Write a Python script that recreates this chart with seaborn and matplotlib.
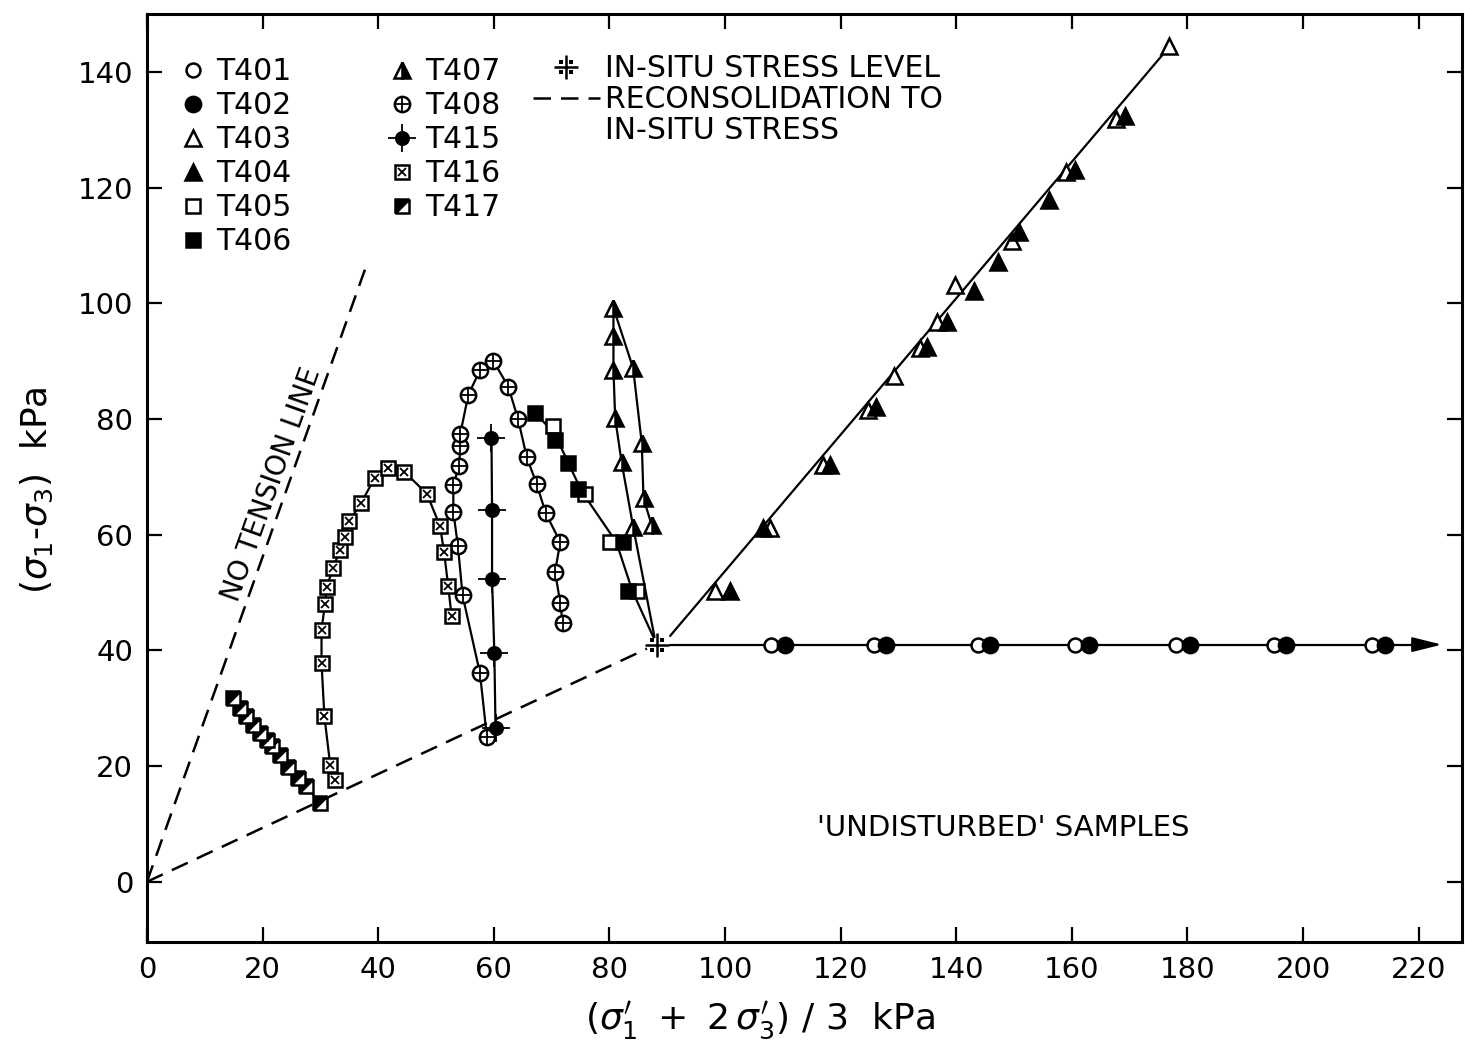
import numpy as np
import pandas as pd
import matplotlib
matplotlib.use("Agg")
import matplotlib.pyplot as plt
import seaborn as sns
from matplotlib.lines import Line2D
from matplotlib.markers import MarkerStyle
from matplotlib.transforms import Affine2D
from matplotlib.path import Path
from matplotlib.legend_handler import HandlerTuple

# ---------------- data (p' = (s1'+2s3')/3 , q = s1-s3), kPa ----------------
in_situ_p = [88.2]
in_situ_q = [41.0]

t401_p = [108.0, 125.8, 143.8, 160.6, 178.0, 195.0, 211.9]
t401_q = [41.0, 41.0, 41.0, 41.0, 41.0, 41.0, 41.0]
t402_p = [110.4, 127.9, 145.8, 163.0, 180.4, 197.1, 214.2]
t402_q = [41.0, 41.0, 41.0, 41.0, 41.0, 41.0, 41.0]

t403_p = [98.3, 107.8, 117.0, 124.8, 129.2, 133.7, 136.7, 139.8, 149.6, 158.9, 167.6, 176.8]
t403_q = [50.3, 61.2, 72.0, 81.6, 87.4, 92.2, 96.7, 103.2, 110.8, 122.7, 131.9, 144.5]
t404_p = [100.9, 106.5, 118.2, 126.2, 134.9, 138.4, 143.1, 147.3, 150.8, 156.0, 160.6, 169.2]
t404_q = [50.3, 61.2, 72.0, 82.0, 92.5, 96.7, 102.1, 107.2, 112.4, 117.8, 123.1, 132.4]

t405_p = [70.3, 75.8, 80.1, 84.7]
t405_q = [78.8, 67.1, 58.7, 50.2]
t406_p = [67.1, 70.6, 72.9, 74.6, 82.4, 83.3]
t406_q = [81.1, 76.3, 72.4, 67.9, 58.7, 50.2]

t407_p = [84.1, 82.1, 81.0, 80.7, 80.7, 80.7, 84.1, 85.6, 85.9, 87.3]
t407_q = [61.4, 72.6, 80.1, 88.5, 94.3, 99.2, 88.8, 75.8, 66.3, 61.7]

t408_p = [58.8, 57.6, 54.6, 53.8, 53.0, 53.0, 54.0, 54.2, 54.2, 55.6, 57.6, 59.9,
          62.5, 64.2, 65.7, 67.4, 69.0, 71.5, 70.6, 71.5, 71.9]
t408_q = [25.1, 36.1, 49.5, 58.0, 64.0, 68.6, 71.9, 75.4, 77.4, 84.2, 88.4, 90.1,
          85.6, 80.0, 73.4, 68.8, 63.7, 58.7, 53.6, 48.2, 44.8]

t415_p = [60.3, 60.1, 59.7, 59.7, 59.6]
t415_q = [26.5, 39.5, 52.3, 64.3, 76.7]

t416_p = [32.5, 31.7, 30.7, 30.2, 30.2, 30.8, 31.1, 32.2, 33.4, 34.3, 35.0, 37.0,
          39.4, 41.7, 44.5, 48.4, 50.7, 51.4, 52.1, 52.7]
t416_q = [17.6, 20.2, 28.6, 37.8, 43.6, 48.0, 51.0, 54.2, 57.4, 59.6, 62.3, 65.4,
          69.8, 71.5, 70.9, 67.1, 61.5, 57.0, 51.2, 46.0]

t417_p = [29.9, 27.6, 26.2, 24.4, 23.0, 21.6, 20.7, 19.6, 18.4, 17.2, 16.1, 14.9]
t417_q = [13.6, 16.5, 17.9, 19.9, 22.0, 23.4, 24.5, 25.7, 27.1, 28.6, 30.0, 31.7]

# drawn curves (hand-faired lines of the original)
curve_403_404_p = [90.5, 177.0]
curve_403_404_q = [42.5, 144.5]
curve_401_402_p = [90.5, 224.0]
curve_401_402_q = [41.0, 41.0]
curve_405_406_p = [67.1, 70.5, 72.9, 75.2, 81.2, 84.0, 87.6]
curve_405_406_q = [81.1, 77.5, 72.4, 67.5, 58.7, 50.2, 42.3]
curve_407_p = [87.8] + t407_p
curve_407_q = [42.3] + t407_q

no_tension_p = [0.0, 37.7]
no_tension_q = [0.0, 105.8]
recon_p = [0.0, 86.5]
recon_q = [0.0, 40.3]

# ---------------- style ----------------
sns.set_theme(style="ticks")
plt.rcParams['font.family'] = ['DejaVu Sans']
plt.rcParams['mathtext.fontset'] = 'dejavusans'
K = 'black'
plt.rcParams.update({'text.color': K, 'axes.labelcolor': K,
                     'xtick.color': K, 'ytick.color': K, 'axes.edgecolor': K})

fig = plt.figure(figsize=(14.65, 10.56), dpi=100)
ax = fig.add_axes([0.1003, 0.108, 0.8977, 0.8787])

LW = 1.6


def line(px, py, **kw):
    d = pd.DataFrame({'p': px, 'q': py})
    sns.lineplot(data=d, x='p', y='q', sort=False, estimator=None, ax=ax,
                 color=K, lw=kw.pop('lw', LW), legend=False, **kw)


# curves
dash = (7, 4)
line(no_tension_p, no_tension_q, dashes=dash, lw=1.8)
line(recon_p, recon_q, dashes=dash, lw=1.8)
line([curve_401_402_p[0], curve_401_402_p[1] - 4], curve_401_402_q)
ax.annotate('', xy=(curve_401_402_p[1], curve_401_402_q[1]),
            xytext=(curve_401_402_p[1] - 5, curve_401_402_q[1]),
            arrowprops=dict(arrowstyle='-|>,head_length=1.2,head_width=0.3',
                            mutation_scale=15, color=K, lw=LW,
                            shrinkA=0, shrinkB=0))
line(curve_403_404_p, curve_403_404_q)
line(curve_405_406_p, curve_405_406_q)
line(curve_407_p, curve_407_q)
line(t408_p, t408_q)
line(t415_p, t415_q)
line(t416_p, t416_q)
line(t417_p, t417_q)

# marker definitions
MEW = 1.8
half_sq = MarkerStyle('D', fillstyle='top', transform=Affine2D().rotate_deg(45))


def dots_path():
    verts, codes = [], []
    h = 0.22
    for cx, cy in [(-0.55, -0.55), (-0.55, 0.55), (0.55, 0.55), (0.55, -0.55)]:
        verts += [(cx - h, cy - h), (cx + h, cy - h), (cx + h, cy + h), (cx - h, cy + h), (0, 0)]
        codes += [Path.MOVETO, Path.LINETO, Path.LINETO, Path.LINETO, Path.CLOSEPOLY]
    return Path(verts, codes)


styles = {
    'T401': [dict(marker='o', ms=10, mfc='white', mec=K, mew=MEW)],
    'T402': [dict(marker='o', ms=11, mfc=K, mec=K, mew=MEW)],
    'T403': [dict(marker='^', ms=12, mfc='white', mec=K, mew=MEW)],
    'T404': [dict(marker='^', ms=12, mfc=K, mec=K, mew=MEW)],
    'T405': [dict(marker='s', ms=10, mfc='white', mec=K, mew=MEW)],
    'T406': [dict(marker='s', ms=10, mfc=K, mec=K, mew=MEW)],
    'T407': [dict(marker='^', ms=12, mfc=K, mfcalt='white', fillstyle='right', mec=K, mew=MEW)],
    'T408': [dict(marker='o', ms=11, mfc='white', mec=K, mew=MEW),
             dict(marker='+', ms=11, mec=K, mew=1.3)],
    'T415': [dict(marker='o', ms=9, mfc=K, mec=K, mew=MEW),
             dict(marker='+', ms=20, mec=K, mew=1.3)],
    'T416': [dict(marker='s', ms=10, mfc='white', mec=K, mew=MEW),
             dict(marker='x', ms=6, mec=K, mew=1.3)],
    'T417': [dict(marker=half_sq, ms=10, mfc=K, mfcalt='white', mec=K, mew=MEW)],
}
series = {
    'T401': (t401_p, t401_q), 'T402': (t402_p, t402_q),
    'T403': (t403_p, t403_q), 'T404': (t404_p, t404_q),
    'T405': (t405_p, t405_q), 'T406': (t406_p, t406_q),
    'T407': (t407_p, t407_q), 'T408': (t408_p, t408_q),
    'T415': (t415_p, t415_q), 'T416': (t416_p, t416_q),
    'T417': (t417_p, t417_q),
}

handles, labels = [], []
for name in ['T401', 'T402', 'T403', 'T404', 'T405', 'T406',
             'T407', 'T408', 'T415', 'T416', 'T417']:
    px, py = series[name]
    hs = []
    for st in styles[name]:
        ax.plot(px, py, ls='none', zorder=3, **st)
        hs.append(Line2D([], [], ls='none', **st))
    handles.append(tuple(hs))
    labels.append(name)

# in-situ stress level symbol
insitu_styles = [dict(marker='+', ms=17, mec=K, mew=1.8),
                 dict(marker=dots_path(), ms=10, mfc=K, mec=K, mew=0)]
for st in insitu_styles:
    ax.plot(in_situ_p, in_situ_q, ls='none', zorder=4, **st)

# ---------------- axes ----------------
ax.set_xlim(0, 227.5)
ax.set_ylim(-10.4, 150)
ax.set_xticks(np.arange(0, 221, 20))
ax.set_yticks(np.arange(0, 141, 20))
ax.tick_params(which='both', direction='in', top=True, right=True,
               length=11, width=1.6, labelsize=21, pad=10, colors=K)
for s in ax.spines.values():
    s.set_linewidth(2.2)
    s.set_color(K)

ax.set_xlabel(r"$(\sigma_1'\ +\ 2\,\sigma_3')\ /\ 3$  kPa", fontsize=26, color=K)
ax.xaxis.set_label_coords(0.466, -0.062)
ax.set_ylabel(r"$(\sigma_1$-$\sigma_3)$  kPa", fontsize=26, color=K)
ax.yaxis.set_label_coords(-0.07, 0.487)

# texts
ax.text(21.6, 68.6, 'NO TENSION LINE', rotation=70.4, rotation_mode='anchor',
        ha='center', va='center', fontsize=20, color=K)
ax.text(148.1, 9.3, "'UNDISTURBED' SAMPLES", ha='center', va='center',
        fontsize=21, color=K)

# legends
tup = {tuple: HandlerTuple(ndivide=1, pad=0)}
leg1 = ax.legend(handles, labels, ncol=2, loc='upper left',
                 bbox_to_anchor=(0.0259, 0.9537), frameon=False, fontsize=21.5,
                 handler_map=tup, labelcolor=K,
                 handlelength=0.8, handletextpad=0.37, columnspacing=3.3,
                 labelspacing=0.17, borderpad=0, borderaxespad=0)
ax.add_artist(leg1)

h_insitu = tuple(Line2D([], [], ls='none', **st) for st in insitu_styles)
h_recon = Line2D([], [], color=K, lw=1.8, dashes=dash)
h_blank = Line2D([], [], ls='none')
leg2 = ax.legend([h_insitu, h_recon, h_blank],
                 ['IN-SITU STRESS LEVEL', 'RECONSOLIDATION TO', 'IN-SITU STRESS'],
                 loc='upper left', bbox_to_anchor=(0.2935, 0.9565), frameon=False,
                 fontsize=21.5, handler_map=tup, labelcolor=K,
                 handlelength=2.24, handletextpad=0.17, labelspacing=0.06,
                 borderpad=0, borderaxespad=0)

fig.savefig('out.png', dpi=100, facecolor='white')
